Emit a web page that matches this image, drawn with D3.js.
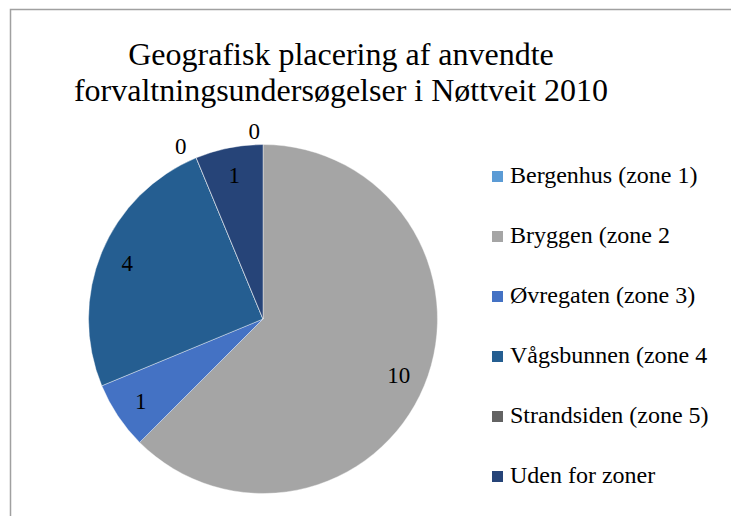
<!DOCTYPE html>
<html>
<head>
<meta charset="utf-8">
<script src="https://cdn.jsdelivr.net/npm/d3@7"></script>
<style>
  body { margin: 0; background: #fff; }
  text { font-family: "Liberation Serif", "Times New Roman", serif; fill: #000; }
</style>
</head>
<body>
<script>
// data
const zones = ['Bergenhus (zone 1)', 'Bryggen (zone 2', 'Øvregaten (zone 3)', 'Vågsbunnen (zone 4', 'Strandsiden (zone 5)', 'Uden for zoner'];
const counts = [0, 10, 1, 4, 0, 1];
const colors = ['#5b9bd5', '#a5a5a5', '#4472c4', '#255e91', '#636363', '#264478'];
const titleLines = ['Geografisk placering af anvendte', 'forvaltningsundersøgelser i Nøttveit 2010'];

const width = 731, height = 516;
const cx = 263, cy = 319, radius = 174.5;

const svg = d3.select('body').append('svg')
  .attr('width', width)
  .attr('height', height);

// chart frame (runs off right/bottom of the window)
svg.append('rect')
  .attr('x', 10.5).attr('y', 9.5)
  .attr('width', 760).attr('height', 540)
  .attr('fill', '#fff')
  .attr('stroke', '#a0a0a0')
  .attr('stroke-width', 1.5);

svg.append('g').selectAll('text')
  .data(titleLines)
  .enter().append('text')
  .attr('x', 341)
  .attr('y', (d, i) => 65 + i * 36)
  .attr('text-anchor', 'middle')
  .style('font-size', '32px')
  .text(d => d);

const color = d3.scaleOrdinal().domain(zones).range(colors);

const pie = d3.pie().sort(null).value(d => d.value);
const arcs = pie(zones.map((z, i) => ({ zone: z, value: counts[i] })));

const arc = d3.arc().innerRadius(0).outerRadius(radius);
const labelArc = d3.arc().innerRadius(147).outerRadius(147);
const zeroArc = d3.arc().innerRadius(192).outerRadius(192);

const g = svg.append('g').attr('transform', `translate(${cx},${cy})`);

g.selectAll('path')
  .data(arcs)
  .enter().append('path')
  .attr('d', arc)
  .attr('fill', d => color(d.data.zone))
  .attr('stroke', '#fff')
  .attr('stroke-width', 0.4);

// value labels: inside for real slices, outside for the zero ones
g.selectAll('text.value')
  .data(arcs)
  .enter().append('text')
  .attr('class', 'value')
  .attr('transform', d => {
    const p = d.value > 0 ? labelArc.centroid(d) : zeroArc.centroid(d);
    if (d.value > 0) return `translate(${p[0]},${p[1]})`;
    return `translate(${p[0] - 3},${p[1] + 4})`;
  })
  .attr('dy', '0.35em')
  .attr('text-anchor', d => d.value > 0 ? 'middle' : 'end')
  .style('font-size', '23px')
  .text(d => d.value);

// legend
const legend = svg.append('g').attr('transform', 'translate(492,0)');
const rows = legend.selectAll('g')
  .data(zones)
  .enter().append('g')
  .attr('transform', (d, i) => `translate(0,${183 + i * 60})`);

rows.append('rect')
  .attr('x', 0).attr('y', -12)
  .attr('width', 11).attr('height', 11)
  .attr('fill', d => color(d));

rows.append('text')
  .attr('x', 18)
  .attr('y', 0)
  .style('font-size', '24px')
  .text(d => d);
</script>
</body>
</html>
